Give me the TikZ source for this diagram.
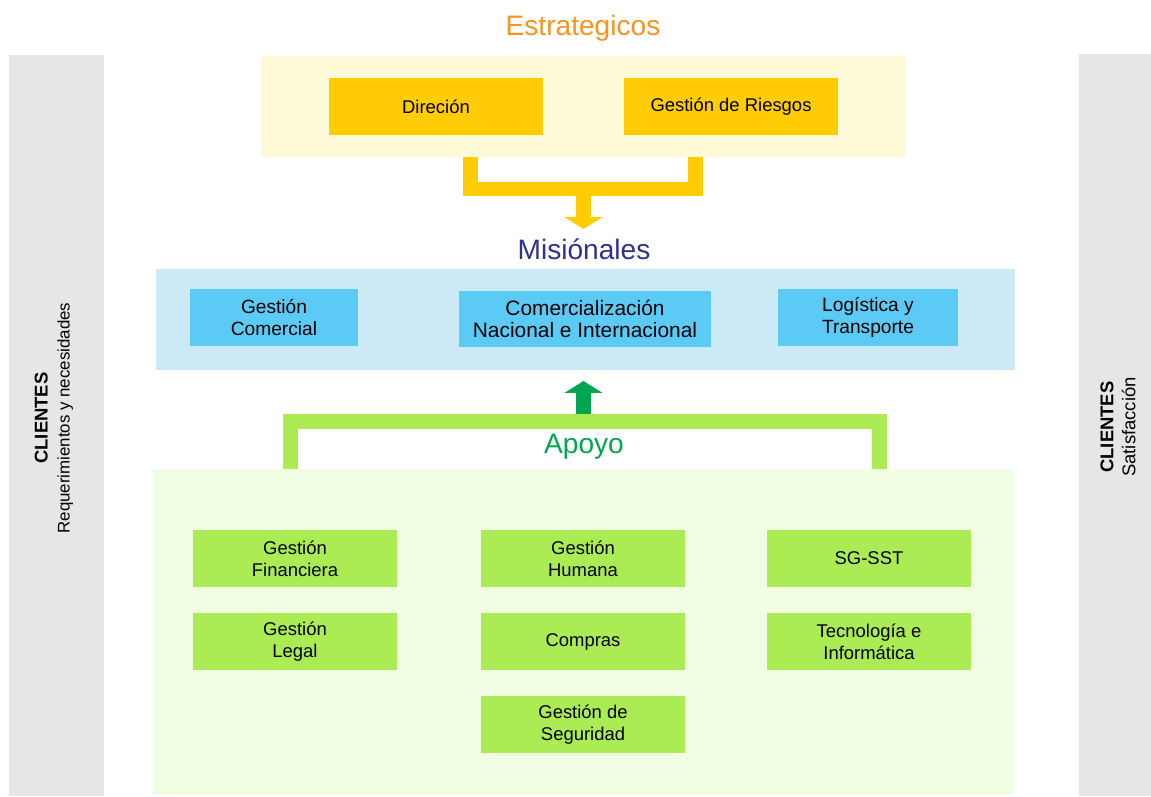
\documentclass[tikz,border=0pt]{standalone}
\usepackage{fontspec}
\setmainfont{Liberation Sans}
\usetikzlibrary{arrows.meta}
\definecolor{clgrey}{HTML}{E5E6E8}
\definecolor{estrlight}{HTML}{FFFAD7}
\definecolor{estrbox}{HTML}{FFCC05}
\definecolor{estrtxt}{HTML}{F7941D}
\definecolor{mislight}{HTML}{CBEAF6}
\definecolor{misbox}{HTML}{5BCBF5}
\definecolor{mistxt}{HTML}{2E3192}
\definecolor{apolight}{HTML}{F2FEE3}
\definecolor{apobox}{HTML}{ABEB53}
\definecolor{apotxt}{HTML}{00A650}
\newcommand{\lbl}{\fontsize{10.5}{12.5}\selectfont}
\newcommand{\ttl}{\fontsize{16}{19}\selectfont}

\begin{document}
\begin{tikzpicture}[x=0.02cm,y=-0.02cm,
    band/.style={inner sep=0pt,outer sep=0pt},
    proc/.style={inner sep=0pt,align=center,font=\lbl,minimum height=1.14cm},
    title/.style={font=\ttl,inner sep=0pt},
    bracket/.style={line width=8.5pt,line join=miter},
    bigarrow/.style={line width=8.5pt,-{Triangle[width=21.5pt,length=6.8pt]}}]
  \useasboundingbox (0,0) rectangle (1151,796);
  % clientes
  \fill[clgrey] (9,55) rectangle (104,796);
  \fill[clgrey] (1079,54) rectangle (1151,796);
  \node[rotate=90,align=center,font=\lbl] (cin) at (54,418) {\textbf{CLIENTES}\\{\fontsize{9.6}{11}\selectfont Requerimientos y necesidades}};
  \node[rotate=90,align=center,font=\lbl] (cout) at (1118,427) {\textbf{CLIENTES}\\Satisfacción};
  % estrategicos
  \node[title,text=estrtxt] (estrt) at (583,28) {Estrategicos};
  \node[band,fill=estrlight,minimum width=12.9cm,minimum height=2.02cm] (estr) at (583.5,106.5) {};
  \node[proc,fill=estrbox,minimum width=4.28cm] (dir) at (436,106.5) {Direción};
  \node[proc,fill=estrbox,minimum width=4.28cm] (ries) at (731,106.5) {Gestión de Riesgos};
  \draw[bracket,estrbox] (470.5,157) |- (695.5,189) -- (695.5,157);
  \coordinate (ydown) at (583.5,196);
  \coordinate (ytip) at (583.5,229);
  \draw[bigarrow,estrbox] (ydown) -- (ytip);
  % misionales
  \node[title,text=mistxt] (mist) at (584,249) {Misiónales};
  \node[band,fill=mislight,minimum width=17.18cm,minimum height=2.02cm] (mis) at (585.5,319.5) {};
  \node[proc,fill=misbox,minimum width=3.36cm,font=\fontsize{10.9}{12.5}\selectfont] (gcom) at (274,317.5) {Gestión\\Comercial};
  \node[proc,fill=misbox,minimum width=5.04cm,minimum height=1.12cm,font=\fontsize{11.9}{12.5}\selectfont] (cni) at (585,319) {Comercialización\\Nacional e Internacional};
  \node[proc,fill=misbox,minimum width=3.6cm,font=\fontsize{10.9}{12.5}\selectfont] (logi) at (868,317.5) {Logística y\\Transporte};
  % apoyo
  \node[band,fill=apolight,minimum width=17.22cm,minimum height=6.52cm] (apo) at (583.5,632) {};
  \draw[bracket,apobox] (290.5,469) |- (879.5,421.5) -- (879.5,469);
  \coordinate (gup) at (583.5,414);
  \coordinate (gtip) at (583.5,381);
  \draw[bigarrow,apotxt] (gup) -- (gtip);
  \node[title,text=apotxt] (apot) at (584,447) {Apoyo};
  \foreach \nm/\x/\y/\txt in {gfin/295/558.5/{Gestión\\Financiera},
      gleg/295/641.5/{Gestión\\Legal},
      ghum/583/558.5/{Gestión\\Humana},
      comp/583/641.5/{Compras},
      gseg/583/724.5/{Gestión de\\Seguridad},
      sst/869/558.5/{SG-SST},
      tec/869/641.5/{Tecnología e\\Informática}}
    \node[proc,fill=apobox,minimum width=4.08cm] (\nm) at (\x,\y) {\txt};
\end{tikzpicture}
\end{document}
